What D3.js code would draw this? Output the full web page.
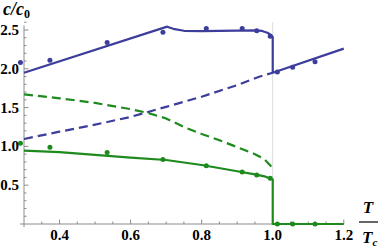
<!DOCTYPE html>
<html>
<head>
<meta charset="utf-8">
<script src="https://cdn.jsdelivr.net/npm/d3@7"></script>
<style>
  body { margin: 0; background: #fff; }
  svg { display: block; }
  text.lbl { font-family: "Liberation Serif", serif; font-weight: bold; }
  text.ttl { font-family: "Liberation Serif", serif; font-weight: bold; font-style: italic; }
</style>
</head>
<body>
<div id="chart"></div>
<script>
// --- data ---
const blueSolidT = [0.3, 0.703, 0.72, 0.75, 0.8, 0.85, 0.9, 0.95, 0.97, 0.985, 0.995, 1.0, 1.0, 1.2];
const blueSolidC = [1.95, 2.543, 2.515, 2.49, 2.485, 2.488, 2.492, 2.496, 2.488, 2.465, 2.435, 2.41, 1.95, 2.26];

const blueDashT = [0.3, 0.4, 0.5, 0.6, 0.7, 0.8, 0.9, 0.96, 1.0];
const blueDashC = [1.095, 1.19, 1.28, 1.38, 1.51, 1.64, 1.79, 1.895, 1.95];

const greenSolidT = [0.3, 0.4, 0.5, 0.6, 0.7, 0.8, 0.9, 0.95, 0.98, 1.0, 1.0, 1.2];
const greenSolidC = [0.945, 0.925, 0.89, 0.855, 0.825, 0.76, 0.68, 0.64, 0.61, 0.575, 0, 0];

const greenDashT = [0.3, 0.4, 0.5, 0.6, 0.65, 0.7, 0.75, 0.8, 0.85, 0.9, 0.95, 0.975, 1.0];
const greenDashC = [1.67, 1.62, 1.56, 1.48, 1.43, 1.36, 1.25, 1.16, 1.08, 0.99, 0.90, 0.84, 0.72];

const dotT = [0.29, 0.373, 0.534, 0.691, 0.813, 0.914, 0.955, 0.993, 1.013, 1.056, 1.119];
const blueDotC = [2.08, 2.11, 2.34, 2.47, 2.52, 2.52, 2.49, 2.42, 1.96, 2.02, 2.09];
const greenDotC = [1.04, 0.99, 0.92, 0.83, 0.75, 0.67, 0.63, 0.59, 0, 0, 0];

const xMajor = [0.4, 0.6, 0.8, 1.0, 1.2];
const yMajor = [0.5, 1.0, 1.5, 2.0, 2.5];

const W = 382, H = 248;
const blue = "#3d3d9c", green = "#1e8a1e";

const x = d3.scaleLinear().domain([0.3, 1.2]).range([24, 343.8]);
const y = d3.scaleLinear().domain([0, 2.5]).range([224, 30]);

const svg = d3.select("#chart").append("svg")
    .attr("width", W).attr("height", H);

// vertical guide at T = Tc
svg.append("line")
    .attr("x1", x(1.0)).attr("x2", x(1.0))
    .attr("y1", y(2.6)).attr("y2", y(0))
    .attr("stroke", "#dcdcdc").attr("stroke-width", 1);

// axes (ticks pointing inward)
const xMinor = d3.range(0.35, 1.2001, 0.05).filter(v => !xMajor.some(m => Math.abs(m - v) < 1e-6));
const yMinor = d3.range(0.1, 2.6001, 0.1).filter(v => !yMajor.some(m => Math.abs(m - v) < 1e-6));

const axisColor = "#8c8c8c";
svg.append("line").attr("x1", 20).attr("x2", x(1.2)).attr("y1", y(0)).attr("y2", y(0))
    .attr("stroke", axisColor).attr("stroke-width", 1);
svg.append("line").attr("x1", x(0.3)).attr("x2", x(0.3)).attr("y1", y(2.56)).attr("y2", y(0) + 3)
    .attr("stroke", axisColor).attr("stroke-width", 1);

svg.selectAll(".xminor").data(xMinor).enter().append("line")
    .attr("x1", d => x(d)).attr("x2", d => x(d)).attr("y1", y(0)).attr("y2", y(0) - 2.5)
    .attr("stroke", axisColor);
svg.selectAll(".xmajor").data(xMajor).enter().append("line")
    .attr("x1", d => x(d)).attr("x2", d => x(d)).attr("y1", y(0)).attr("y2", y(0) - 4.5)
    .attr("stroke", axisColor);
svg.selectAll(".yminor").data(yMinor).enter().append("line")
    .attr("x1", x(0.3)).attr("x2", x(0.3) + 2.5).attr("y1", d => y(d)).attr("y2", d => y(d))
    .attr("stroke", axisColor);
svg.selectAll(".ymajor").data(yMajor).enter().append("line")
    .attr("x1", x(0.3)).attr("x2", x(0.3) + 4.5).attr("y1", d => y(d)).attr("y2", d => y(d))
    .attr("stroke", axisColor);

// curves
const line = d3.line().x(d => x(d[0])).y(d => y(d[1]));
const zip = (a, b) => a.map((v, i) => [v, b[i]]);

function drawCurve(ts, cs, color, dashed) {
    svg.append("path")
        .attr("d", line(zip(ts, cs)))
        .attr("fill", "none")
        .attr("stroke", color)
        .attr("stroke-width", 2.2)
        .attr("stroke-linejoin", "round")
        .attr("stroke-dasharray", dashed ? "9,5" : null);
}
drawCurve(greenDashT, greenDashC, green, true);
drawCurve(blueDashT, blueDashC, blue, true);
drawCurve(greenSolidT, greenSolidC, green, false);
drawCurve(blueSolidT, blueSolidC, blue, false);

// simulation points
svg.selectAll(".bdot").data(zip(dotT, blueDotC)).enter().append("circle")
    .attr("cx", d => x(d[0])).attr("cy", d => y(d[1])).attr("r", 2.5).attr("fill", blue);
svg.selectAll(".gdot").data(zip(dotT, greenDotC)).enter().append("circle")
    .attr("cx", d => x(d[0])).attr("cy", d => y(d[1])).attr("r", 2.5).attr("fill", green);

// tick labels
svg.selectAll(".xl").data(xMajor).enter().append("text")
    .attr("class", "lbl")
    .style("font-size", "15px")
    .attr("x", d => x(d)).attr("y", 240)
    .attr("text-anchor", "middle")
    .text(d => d.toFixed(1));
svg.selectAll(".yl").data(yMajor).enter().append("text")
    .attr("class", "lbl")
    .style("font-size", "15px")
    .attr("x", 19).attr("y", d => y(d) + 5)
    .attr("text-anchor", "end")
    .text(d => d.toFixed(1));

// axis titles
const yt = svg.append("text").attr("class", "ttl")
    .attr("x", 3).attr("y", 15).style("font-size", "18px");
yt.append("tspan").text("c/c");
yt.append("tspan").style("font-size", "12px").style("font-style", "normal").attr("dy", 3).text("0");

svg.append("text").attr("class", "ttl").style("font-size", "17px")
    .attr("x", 368).attr("y", 213).attr("text-anchor", "middle").text("T");
svg.append("line").attr("x1", 359).attr("x2", 378).attr("y1", 222).attr("y2", 222)
    .attr("stroke", "#000").attr("stroke-width", 1.2);
const tc = svg.append("text").attr("class", "ttl").style("font-size", "17px")
    .attr("x", 362).attr("y", 243);
tc.append("tspan").text("T");
tc.append("tspan").style("font-size", "11px").attr("dy", 3).text("c");
</script>
</body>
</html>
